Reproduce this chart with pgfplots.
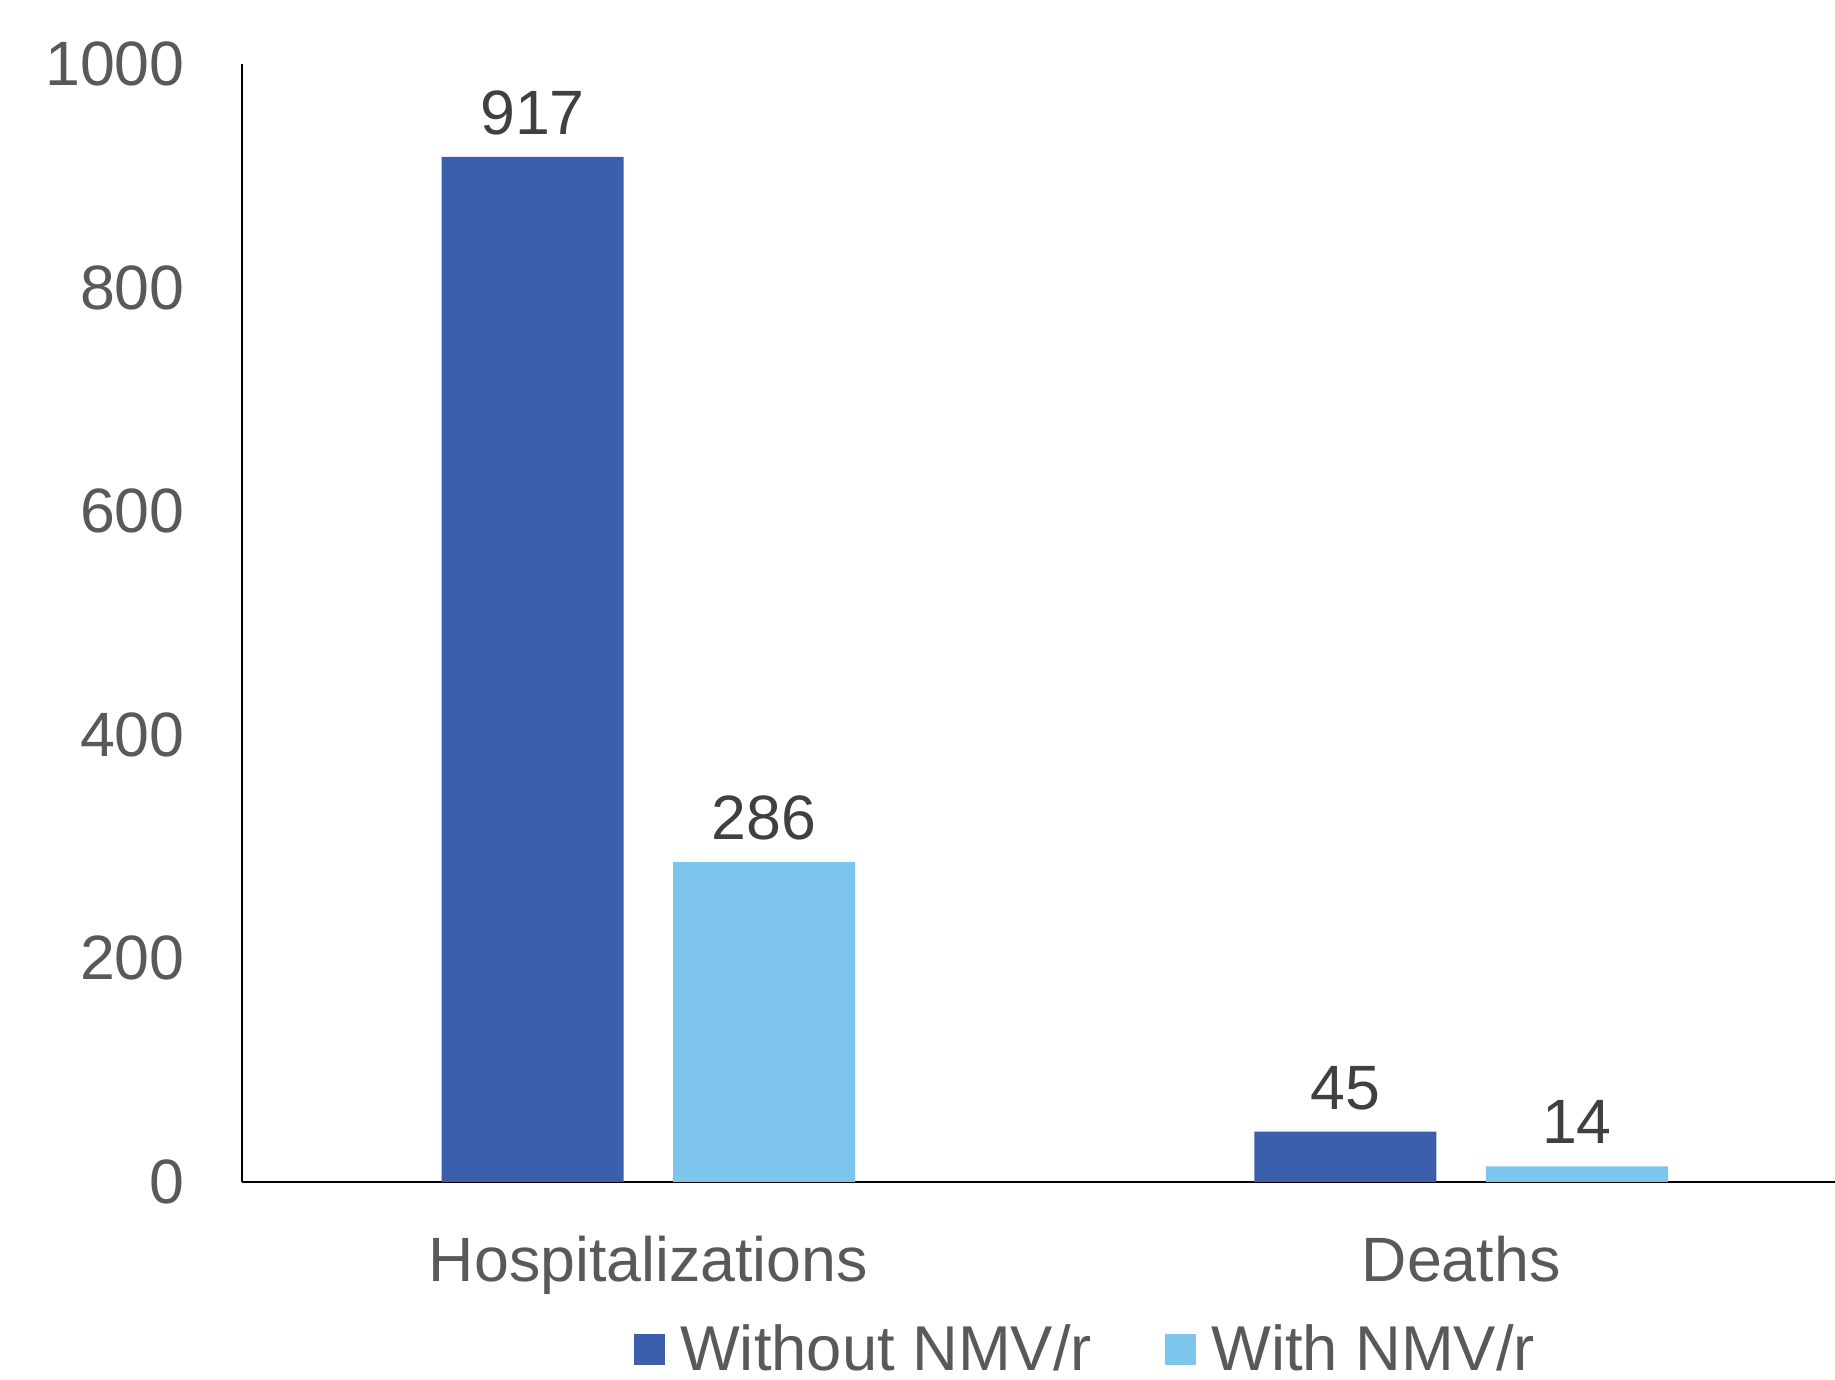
\documentclass[border=0pt]{standalone}
\usepackage{pgfplots}
\pgfplotsset{compat=1.18}
\usepackage{fontspec}
\setmainfont{Liberation Sans}
\definecolor{darkbar}{HTML}{3B5FAB}
\definecolor{lightbar}{HTML}{7DC5EC}
\definecolor{txtgray}{HTML}{595959}
\definecolor{valgray}{HTML}{404040}
\begin{document}
\begin{tikzpicture}
\useasboundingbox (0,0) rectangle (550.5pt,414pt);
\begin{axis}[
  at={(72.6pt,59.4pt)}, anchor=south west,
  scale only axis,
  width=477.9pt, height=335.4pt,
  xmin=-0.5, xmax=1.46,
  ymin=0, ymax=1000,
  ybar,
  axis x line*=bottom, axis y line*=left,
  axis line style={black, line width=0.6pt, -},
  xtick={0,1}, xticklabels={Hospitalizations,Deaths},
  ytick={0,200,400,600,800,1000},
  /pgf/number format/assume math mode=true,
  /pgf/number format/1000 sep={},
  major tick length=0pt,
  tick style={draw=none},
  ticklabel style={font=\fontsize{18.8pt}{22pt}\selectfont, text=txtgray},
  yticklabel style={inner sep=0pt, xshift=-17pt},
  xticklabel style={inner sep=0pt, yshift=-16pt},
  bar width=0.224,
  nodes near coords,
  every node near coord/.append style={font=\fontsize{18.8pt}{22pt}\selectfont, text=valgray, anchor=base, inner sep=0pt, yshift=6.8pt},
  legend columns=2,
  legend style={at={(0.531,-0.150)}, anchor=center, draw=none, fill=none,
    font=\fontsize{19pt}{20pt}\selectfont, text=txtgray, inner sep=1pt,
    /tikz/every odd column/.append style={column sep=2.5pt},
    /tikz/every even column/.append style={column sep=20pt}},
  legend image code/.code={\fill[#1] (0pt,-4.65pt) rectangle (9.3pt,4.65pt);},
  clip=false,
]
\addplot[fill=darkbar, draw=none, bar shift=-0.1425] coordinates {(0,917) (1,45)};
\addlegendentry{Without NMV/r}
\addplot[fill=lightbar, draw=none, bar shift=0.1425] coordinates {(0,286) (1,14)};
\addlegendentry{With NMV/r}
\end{axis}
\end{tikzpicture}
\end{document}
